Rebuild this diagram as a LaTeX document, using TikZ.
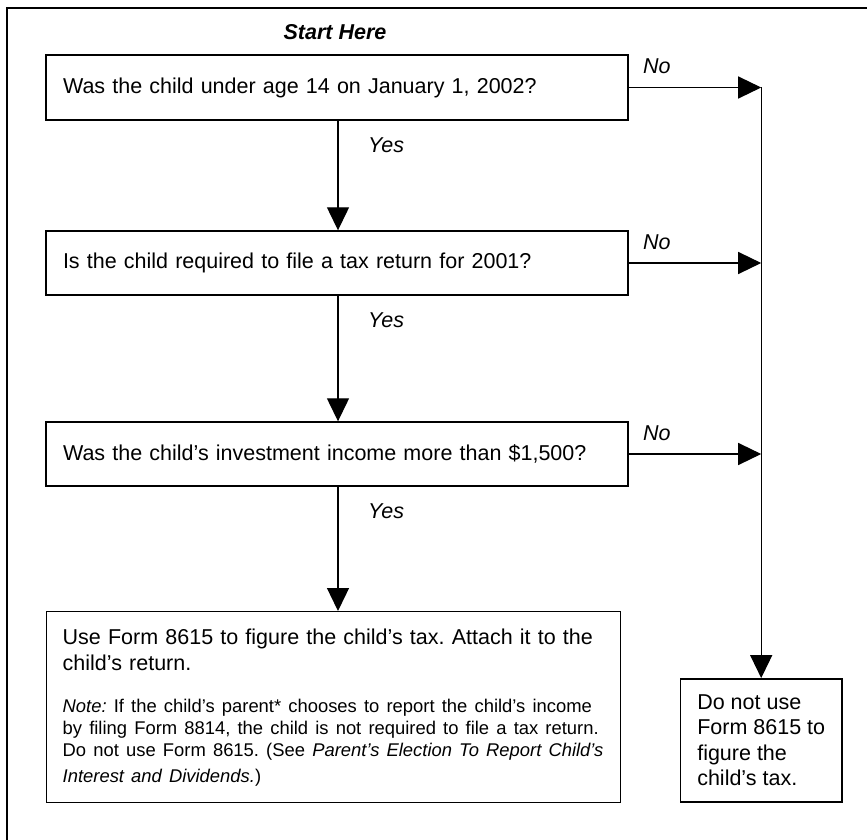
\documentclass[tikz,border=0pt]{standalone}
\usepackage{fontspec}
\setmainfont{Liberation Sans}
\usetikzlibrary{arrows.meta}
\begin{document}
\frenchspacing
\begin{tikzpicture}[x=1pt,y=-1pt,
  mainfont/.style={font=\fontsize{21.5}{26}\selectfont},
  qbox/.style={draw, line width=1.4pt, rectangle, inner xsep=17pt, inner ysep=0pt,
    align=left, mainfont, minimum height=64pt},
  conn/.style={line width=1.3pt, -{Triangle[length=23pt,width=22pt]}},
  lbl/.style={font=\fontsize{21.5}{26}\selectfont\itshape, inner sep=0pt}]
\useasboundingbox (0,0) rectangle (867,840);
% outer frame (cut at right and bottom)
\draw[line width=1.8pt] (7,840) -- (7,8) -- (867,8);

\node[font=\fontsize{21.5}{26}\selectfont\bfseries\itshape, inner sep=0pt] (start) at (335,32) {Start Here};

\node[qbox, text width=548pt, minimum height=65pt] (b1) at (337,87.5) {Was the child under age 14 on January 1, 2002?};
\node[qbox, text width=548pt] (b2) at (337,263) {Is the child required to file a tax return for 2001?};
\node[qbox, text width=548pt] (b3) at (337,454) {Was the child’s investment income more than \$1,500?};
\node[qbox, anchor=north west, inner xsep=16pt, text width=542pt, minimum height=191pt] (b4) at (46,611)
 {\mbox{Use Form 8615 to figure the child’s tax. Attach it to the}\\child’s return.\\[20pt]
  \fontsize{18.4}{22}\selectfont\mbox{\textit{Note:} If the child’s parent* chooses to report the child’s income}\\
  \mbox{by filing Form 8814, the child is not required to file a tax return.}\\
  \mbox{Do not use Form 8615. (See \textit{Parent’s Election To Report Child’s}}\\
  \mbox{\textit{Interest and Dividends.})}};
\node[qbox, minimum width=159pt, minimum height=123pt, font=\fontsize{21.5}{25.5}\selectfont] (rb) at (761.2,740.3) {Do not use\\Form 8615 to\\figure the\\child’s tax.};

% junction points on the right vertical line
\coordinate (j1) at (b1.east -| rb.north);
\coordinate (j2) at (b2.east -| rb.north);
\coordinate (j3) at (b3.east -| rb.north);

% No branches
\draw[conn] (b1.east) -- (j1);
\draw[conn] (b2.east) -- (j2);
\draw[conn] (b3.east) -- (j3);
\draw[conn] (j1) -- (rb.north);
\node[lbl, anchor=base west] (no1) at (643,74) {No};
\node[lbl, anchor=base west] (no2) at (643,249.5) {No};
\node[lbl, anchor=base west] (no3) at (643,440.5) {No};

% Yes branches
\draw[conn] (b1.south -| 338,0) -- (b2.north -| 338,0);
\draw[conn] (b2.south -| 338,0) -- (b3.north -| 338,0);
\draw[conn] (b3.south -| 338,0) -- (b4.north -| 338,0);
\node[lbl, anchor=base west] (yes1) at (368,152) {Yes};
\node[lbl, anchor=base west] (yes2) at (368,327) {Yes};
\node[lbl, anchor=base west] (yes3) at (368,518) {Yes};
\end{tikzpicture}
\end{document}
